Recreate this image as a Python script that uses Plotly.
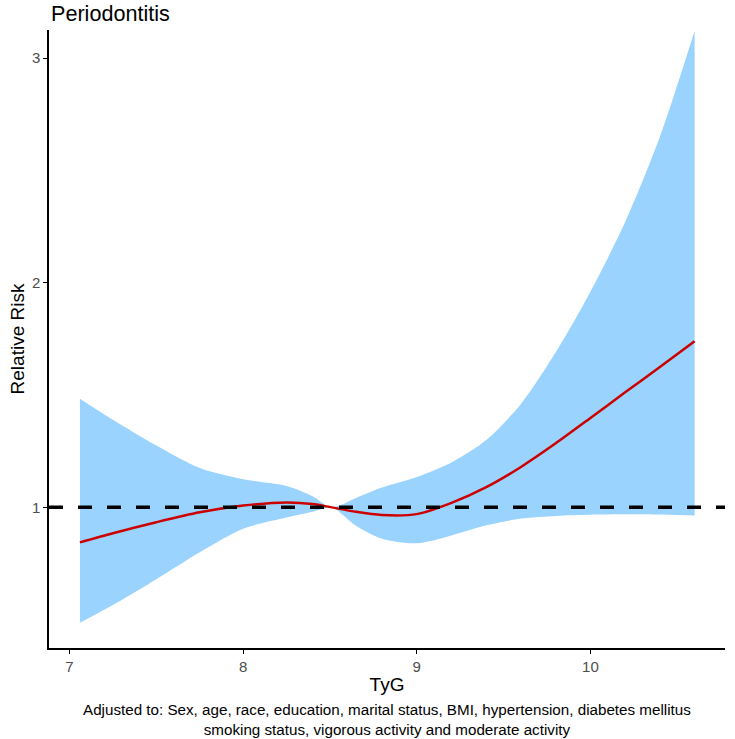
import plotly.graph_objects as go

# TyG values (x) and estimated relative risk curve with 95% CI
tyg = [7.06, 7.25, 7.5, 7.75, 8.0, 8.25, 8.4, 8.51, 8.65, 8.8, 9.0, 9.2, 9.4, 9.6, 9.8, 10.0, 10.2, 10.4, 10.6]
rr = [0.844, 0.885, 0.934, 0.978, 1.008, 1.022, 1.015, 1.0, 0.98, 0.966, 0.97, 1.02, 1.09, 1.18, 1.285, 1.398, 1.512, 1.625, 1.74]
upper = [1.484, 1.39, 1.275, 1.175, 1.125, 1.095, 1.05, 1.0, 1.042, 1.088, 1.135, 1.2, 1.30, 1.46, 1.69, 1.96, 2.27, 2.65, 3.12]
lower = [0.486, 0.565, 0.68, 0.80, 0.905, 0.955, 0.98, 1.0, 0.918, 0.86, 0.84, 0.875, 0.92, 0.95, 0.962, 0.967, 0.969, 0.968, 0.964]

x_ticks = [7, 8, 9, 10]
y_ticks = [1, 2, 3]
ref_line = 1

FONT = "Liberation Sans, Arial, sans-serif"

fig = go.Figure()
fig.add_trace(go.Scatter(x=tyg, y=upper, mode="lines", line=dict(width=0, shape="spline", smoothing=0.8),
                         hoverinfo="skip", showlegend=False))
fig.add_trace(go.Scatter(x=tyg, y=lower, mode="lines", line=dict(width=0, shape="spline", smoothing=0.8),
                         fill="tonexty", fillcolor="#9AD3FD", hoverinfo="skip", showlegend=False))
fig.add_trace(go.Scatter(x=tyg, y=rr, mode="lines",
                         line=dict(color="#CD0000", width=2.5, shape="spline", smoothing=0.8),
                         showlegend=False))

xmin, xmax = 6.882, 10.775
fig.add_trace(go.Scatter(x=[xmin, xmax], y=[ref_line, ref_line], mode="lines",
                         line=dict(color="black", width=3.5, dash="14px,15px"), showlegend=False))

fig.update_layout(
    width=735, height=739,
    margin=dict(l=49, r=10, t=30, b=91),
    plot_bgcolor="white", paper_bgcolor="white",
    font=dict(family=FONT, color="black"),
    xaxis=dict(range=[xmin, xmax], tickvals=x_ticks, ticks="outside", ticklen=4, tickwidth=1,
               tickcolor="black", showline=True, linecolor="black", linewidth=1.5,
               showgrid=False, zeroline=False, automargin=False,
               tickfont=dict(size=15, color="#4D4D4D", family=FONT),
               title=dict(text="TyG", font=dict(size=19, family=FONT), standoff=4)),
    yaxis=dict(range=[0.374, 3.125], tickvals=y_ticks, ticks="outside", ticklen=4, tickwidth=1,
               tickcolor="black", showline=True, linecolor="black", linewidth=1.5,
               showgrid=False, zeroline=False, automargin=False,
               tickfont=dict(size=15, color="#4D4D4D", family=FONT),
               title=dict(text="Relative Risk", font=dict(size=19, family=FONT), standoff=2)),
)

fig.add_annotation(text="Periodontitis", xref="paper", yref="paper", x=0.0, y=1.026,
                   xanchor="left", yanchor="middle", showarrow=False,
                   font=dict(size=21.6, family=FONT, color="black"))
fig.add_annotation(text="Adjusted to: Sex, age, race, education, marital status, BMI, hypertension, diabetes mellitus<br>smoking status, vigorous activity and moderate activity",
                   xref="paper", yref="paper", x=0.5, y=-0.083, xanchor="center", yanchor="top",
                   showarrow=False, align="center",
                   font=dict(size=15.2, family=FONT, color="black"))

fig.write_html("out.html", config={"displayModeBar": False},
               post_script="document.body.style.margin='0';")
